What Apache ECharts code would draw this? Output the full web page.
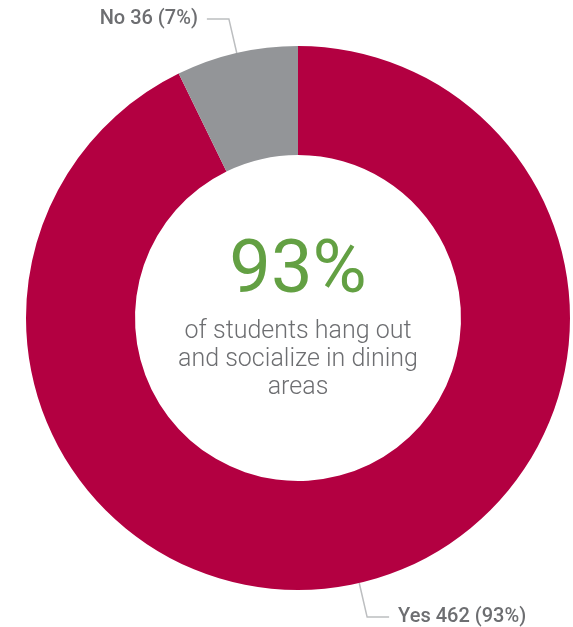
<!DOCTYPE html>
<html>
<head>
<meta charset="utf-8">
<script src="https://cdn.jsdelivr.net/npm/echarts@6/dist/echarts.min.js"></script>
<style>
html,body{margin:0;padding:0;background:#fff;}
#chart{width:573px;height:627px;}
</style>
</head>
<body>
<div id="chart"></div>
<script>
const categories = ['Yes', 'No'];
const values = [462, 36];
const sliceColors = ['#b30041', '#939598'];
const headline = '93%';
const subtitleLines = ['of students hang out', 'and socialize in dining', 'areas'];

const total = values.reduce((a, b) => a + b, 0);
const chart = echarts.init(document.getElementById('chart'));
chart.setOption({
  animation: false,
  series: [{
    type: 'pie',
    center: [298, 318],
    radius: [163, 272],
    startAngle: 90,
    clockwise: true,
    avoidLabelOverlap: false,
    data: categories.map((c, i) => ({
      name: c,
      value: values[i],
      itemStyle: { color: sliceColors[i] }
    })),
    label: {
      show: true,
      position: 'outside',
      formatter: p => p.name + ' ' + p.value + ' (' + Math.round(p.value / total * 100) + '%)',
      color: '#6d6e71',
      fontFamily: 'Roboto',
      fontWeight: 500,
      fontSize: 20,
      distanceToLabelLine: 9
    },
    labelLine: {
      show: true,
      length: 35,
      length2: 22,
      smooth: false,
      lineStyle: { color: '#bcbec0', width: 1.5 }
    },
    emphasis: { disabled: true }
  }],
  graphic: [
    {
      type: 'text',
      x: 298,
      y: 236,
      style: {
        text: headline,
        fontFamily: 'Roboto',
        fontWeight: 400,
        fontSize: 74,
        fill: '#63a043',
        align: 'center'
      }
    },
    {
      type: 'text',
      x: 298,
      y: 318,
      style: {
        text: subtitleLines.join('\n'),
        fontFamily: 'Roboto',
        fontWeight: 300,
        fontSize: 25,
        lineHeight: 28,
        fill: '#6d6e71',
        align: 'center'
      }
    }
  ]
});
</script>
</body>
</html>
